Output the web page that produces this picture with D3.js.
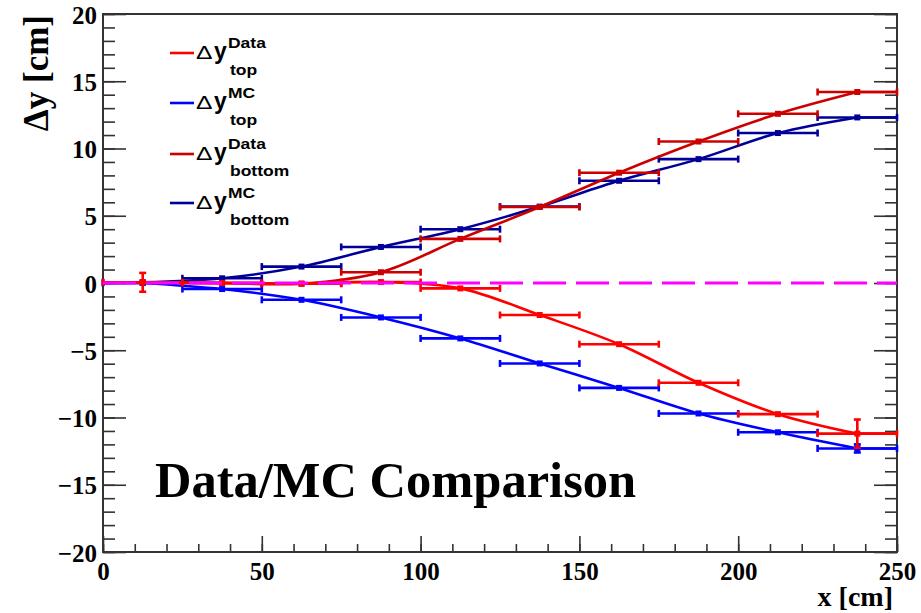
<!DOCTYPE html>
<html>
<head>
<meta charset="utf-8">
<script src="https://cdn.jsdelivr.net/npm/d3@7"></script>
<style>
html,body{margin:0;padding:0;background:#fff;}
svg{display:block;}
</style>
</head>
<body>
<svg id="chart" width="921" height="613"></svg>
<script>
// ---- data ----
const binCenters = [12.5, 37.5, 62.5, 87.5, 112.5, 137.5, 162.5, 187.5, 212.5, 237.5];
const binHalfWidth = 12.5;
const dataTop      = [0.05, 0.0, -0.05, 0.07, -0.4, -2.38, -4.55, -7.42, -9.75, -11.2];
const dataTopErr   = [0.7, 0.1, 0.1, 0.1, 0.1, 0.1, 0.2, 0.15, 0.15, 1.05];
const mcTop        = [0.0, -0.45, -1.25, -2.56, -4.12, -5.98, -7.8, -9.7, -11.1, -12.3];
const mcTopErr     = [0.1, 0.1, 0.1, 0.1, 0.1, 0.1, 0.1, 0.1, 0.1, 0.3];
const dataBottom   = [0.05, 0.0, -0.05, 0.8, 3.28, 5.65, 8.2, 10.52, 12.58, 14.2];
const dataBottomErr= [0.1, 0.1, 0.1, 0.1, 0.1, 0.1, 0.1, 0.1, 0.1, 0.1];
const mcBottom     = [0.05, 0.35, 1.22, 2.68, 4.0, 5.68, 7.6, 9.21, 11.15, 12.31];
const mcBottomErr  = [0.1, 0.1, 0.1, 0.1, 0.1, 0.1, 0.1, 0.1, 0.1, 0.1];
const xDomain = [0, 250];
const yDomain = [-20, 20];
const xMajorTicks = [0, 50, 100, 150, 200, 250];
const yMajorTicks = [-20, -15, -10, -5, 0, 5, 10, 15, 20];
const seriesNames = ["Data|top", "MC|top", "Data|bottom", "MC|bottom"];
const titleText = "Data/MC Comparison";
const xLabel = "x [cm]";
const yLabel = "\u0394y [cm]";

// ---- layout ----
const svg = d3.select("#chart");
const L = 103, R = 897, T = 14, B = 552;
const x = d3.scaleLinear().domain(xDomain).range([L, R]);
const y = d3.scaleLinear().domain(yDomain).range([B, T]);

const series = [
  {name: seriesNames[3], vals: mcBottom, err: mcBottomErr, color: "#000099"},
  {name: seriesNames[2], vals: dataBottom, err: dataBottomErr, color: "#cc0000"},
  {name: seriesNames[1], vals: mcTop, err: mcTopErr, color: "#0000ff"},
  {name: seriesNames[0], vals: dataTop, err: dataTopErr, color: "#ff0000"},
];

// ---- axes ----
const axisColor = "#333";
const minorX = d3.range(0, 251, 10);
const minorY = d3.range(-20, 21, 1);
function styleAxis(g){
  g.select(".domain").remove();
  g.selectAll(".tick line").attr("stroke", axisColor).attr("stroke-width", 1.6);
}
const serif = "'Liberation Serif','Times New Roman',serif";
// left
svg.append("g").attr("transform", `translate(${L},0)`)
  .call(d3.axisLeft(y).tickValues(minorY).tickSize(-12).tickFormat(""))
  .call(styleAxis);
svg.append("g").attr("transform", `translate(${L},0)`)
  .call(d3.axisLeft(y).tickValues(yMajorTicks).tickSize(-23).tickPadding(6))
  .call(styleAxis)
  .call(g => g.selectAll("text").attr("font-family", serif).attr("font-weight", "bold")
     .attr("font-size", 25).attr("fill", "#000").attr("dy", "0.36em"));
// right
svg.append("g").attr("transform", `translate(${R},0)`)
  .call(d3.axisRight(y).tickValues(minorY).tickSize(-12).tickFormat(""))
  .call(styleAxis);
svg.append("g").attr("transform", `translate(${R},0)`)
  .call(d3.axisRight(y).tickValues(yMajorTicks).tickSize(-23).tickFormat(""))
  .call(styleAxis);
// bottom
svg.append("g").attr("transform", `translate(0,${B})`)
  .call(d3.axisBottom(x).tickValues(minorX).tickSize(-8).tickFormat(""))
  .call(styleAxis);
svg.append("g").attr("transform", `translate(0,${B})`)
  .call(d3.axisBottom(x).tickValues(xMajorTicks).tickSize(-16).tickPadding(10).tickFormat(d3.format("d")))
  .call(styleAxis)
  .call(g => g.selectAll("text").attr("font-family", serif).attr("font-weight", "bold")
     .attr("font-size", 25).attr("fill", "#000").attr("dy", "0.71em"));

// frame
svg.append("rect").attr("x", L).attr("y", T).attr("width", R - L).attr("height", B - T)
  .attr("fill", "none").attr("stroke", axisColor).attr("stroke-width", 2);

// ---- series ----
const curve = d3.line().x(d => x(d[0])).y(d => y(d[1])).curve(d3.curveCatmullRom.alpha(0.5));
const straight = d3.line().x(d => x(d[0])).y(d => y(d[1]));
series.forEach(s => {
  const pts = binCenters.map((c, i) => [c, s.vals[i]]);
  const g = svg.append("g");
  const lineStyle = p => p.attr("fill", "none").attr("stroke", s.color).attr("stroke-width", 2.6);
  g.append("path").attr("d", curve(pts)).call(lineStyle);
  g.append("path").attr("d", straight([[xDomain[0], s.vals[0]], pts[0]])).call(lineStyle);
  g.append("path").attr("d", straight([pts[pts.length - 1], [xDomain[1], s.vals[s.vals.length - 1]]])).call(lineStyle);
  pts.forEach((p, i) => {
    const cx = x(p[0]), cy = y(p[1]);
    const x0 = x(p[0] - binHalfWidth), x1 = x(p[0] + binHalfWidth);
    const y0 = y(p[1] + s.err[i]), y1 = y(p[1] - s.err[i]);
    const ge = g.append("g").attr("stroke", s.color).attr("stroke-width", 2.6);
    ge.append("line").attr("x1", x0).attr("x2", x1).attr("y1", cy).attr("y2", cy);
    ge.append("line").attr("x1", x0).attr("x2", x0).attr("y1", cy - 3.5).attr("y2", cy + 3.5);
    ge.append("line").attr("x1", x1).attr("x2", x1).attr("y1", cy - 3.5).attr("y2", cy + 3.5);
    if (Math.abs(y1 - y0) > 6) {
      ge.append("line").attr("x1", cx).attr("x2", cx).attr("y1", y0).attr("y2", y1);
      ge.append("line").attr("x1", cx - 3.5).attr("x2", cx + 3.5).attr("y1", y0).attr("y2", y0);
      ge.append("line").attr("x1", cx - 3.5).attr("x2", cx + 3.5).attr("y1", y1).attr("y2", y1);
    }
    g.append("rect").attr("x", cx - 3).attr("y", cy - 3).attr("width", 6).attr("height", 6)
      .attr("fill", s.color);
  });
});

// zero reference
svg.append("line").attr("x1", x(0)).attr("x2", x(250)).attr("y1", y(0)).attr("y2", y(0))
  .attr("stroke", "#ff00ff").attr("stroke-width", 3).attr("stroke-dasharray", "33,10");

// ---- legend ----
const sans = "'Liberation Sans',Arial,Helvetica,sans-serif";
const legendOrder = [
  {name: seriesNames[0], color: "#ff0000"},
  {name: seriesNames[1], color: "#0000ff"},
  {name: seriesNames[2], color: "#cc0000"},
  {name: seriesNames[3], color: "#000099"},
];
const legY = [53, 103, 154, 203];
legendOrder.forEach((e, i) => {
  const [sup, sub] = e.name.split("|");
  const ly = legY[i];
  svg.append("line").attr("x1", 170).attr("x2", 194).attr("y1", ly).attr("y2", ly)
    .attr("stroke", e.color).attr("stroke-width", 2.6);
  svg.append("text").attr("transform", `translate(196,${ly + 6}) scale(1.3,1)`)
    .attr("font-family", sans).attr("font-size", 19).attr("fill", "#000").text("\u0394");
  svg.append("text").attr("x", 214).attr("y", ly + 6)
    .attr("font-family", sans).attr("font-weight", "bold").attr("font-size", 23).attr("fill", "#000").text("y");
  svg.append("text").attr("transform", `translate(228,${ly - 5}) scale(1.25,1)`)
    .attr("font-family", sans).attr("font-weight", "bold").attr("font-size", 14).attr("fill", "#000").text(sup);
  svg.append("text").attr("transform", `translate(230,${ly + 22}) scale(1.25,1)`)
    .attr("font-family", sans).attr("font-weight", "bold").attr("font-size", 14).attr("fill", "#000").text(sub);
});

// ---- title & labels ----
svg.append("text").attr("x", 155).attr("y", 497)
  .attr("font-family", serif).attr("font-weight", "bold").attr("font-size", 50.5).attr("fill", "#000")
  .text(titleText);
svg.append("text").attr("x", 893).attr("y", 606).attr("text-anchor", "end")
  .attr("font-family", serif).attr("font-weight", "bold").attr("font-size", 28).attr("fill", "#000")
  .text(xLabel);
svg.append("text").attr("transform", "translate(48,15) rotate(-90)").attr("text-anchor", "end")
  .attr("font-family", serif).attr("font-weight", "bold").attr("font-size", 35).attr("fill", "#000")
  .text(yLabel);
</script>
</body>
</html>
